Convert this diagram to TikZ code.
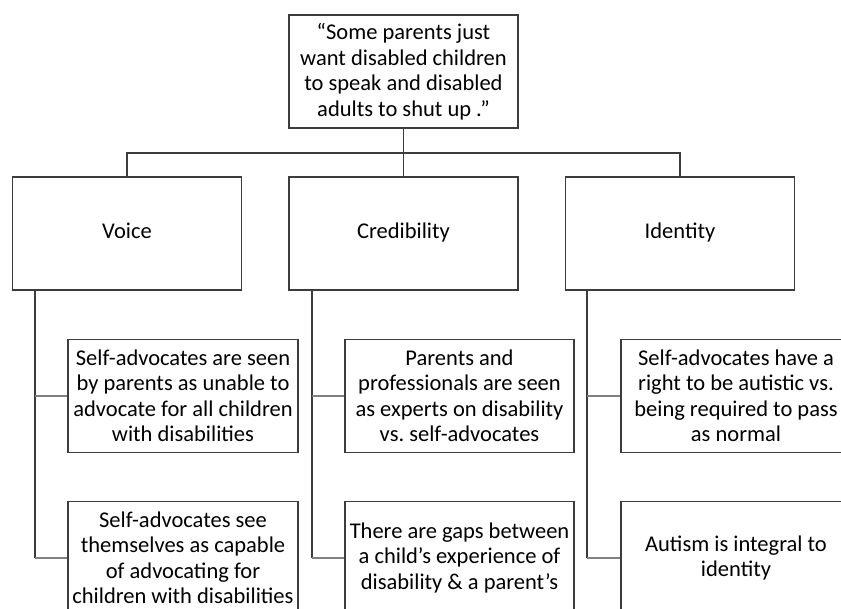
\documentclass[tikz,border=0pt]{standalone}
\usepackage{fontspec}
\setmainfont{Carlito}
\usepackage{tikz}
\frenchspacing

\definecolor{boxgray}{HTML}{3C3C3C}
\definecolor{linkgray}{HTML}{808080}

\begin{document}
\begin{tikzpicture}[x=1pt, y=-1pt, inner xsep=1pt,
  box/.style={rectangle, draw=boxgray, line width=1.5pt, align=center,
    font=\fontsize{22.5}{25.5}\selectfont, minimum width=229, minimum height=113},
  theme/.style={box, text height=15, text depth=5},
  conn/.style={draw=boxgray, line width=1.5pt},
  branch/.style={draw=linkgray, line width=2pt}]
\useasboundingbox (0,0) rectangle (841,609);
\clip (0,0) rectangle (841,609);

\node (quote) at (403.5,71.5) [box] {“Some parents just\\ want disabled children\\ to speak and disabled\\ adults to shut up .”};

\node (voice) at (127,233.5) [theme] {Voice};
\node (cred) at (403.5,233.5) [theme] {Credibility};
\node (ident) at (680,233.5) [theme] {Identity};

\node (v1) at (183,396) [box, minimum width=230] {Self-advocates are seen\\ by parents as unable to\\ advocate for all children\\ with disabilities};
\node (v2) at (183,558) [box, minimum width=230] {Self-advocates see\\ themselves as capable\\ of advocating for\\ children with disabilities};
\node (c1) at (459.5,396) [box] {Parents and\\ professionals are seen\\ as experts on disability\\ vs. self-advocates};
\node (c2) at (459.5,558) [box] {There are gaps between\\ a child’s experience of\\ disability \& a parent’s};
\node (i1) at (736,396) [box, minimum width=230] {Self-advocates have a\\ right to be autistic vs.\\ being required to pass\\ as normal};
\node (i2) at (736,558) [box, minimum width=230] {Autism is integral to\\ identity};

% tree from the quote down to the three themes
\coordinate (bar) at (403.5,153);
\draw[conn] (quote.south) -- (bar);
\draw[conn] (voice.north) |- (bar) -| (ident.north);
\draw[conn] (bar) -- (cred.north);

% columns under each theme
\coordinate (vcol) at (35,290);
\coordinate (ccol) at (312,290);
\coordinate (icol) at (587,290);
\draw[conn] (vcol) -- (vcol |- v2.west);
\draw[conn] (ccol) -- (ccol |- c2.west);
\draw[conn] (icol) -- (icol |- i2.west);

\draw[branch] (vcol |- v1.west) -- (v1.west);
\draw[branch] (vcol |- v2.west) -- (v2.west);
\draw[branch] (ccol |- c1.west) -- (c1.west);
\draw[branch] (ccol |- c2.west) -- (c2.west);
\draw[branch] (icol |- i1.west) -- (i1.west);
\draw[branch] (icol |- i2.west) -- (i2.west);
\end{tikzpicture}
\end{document}
